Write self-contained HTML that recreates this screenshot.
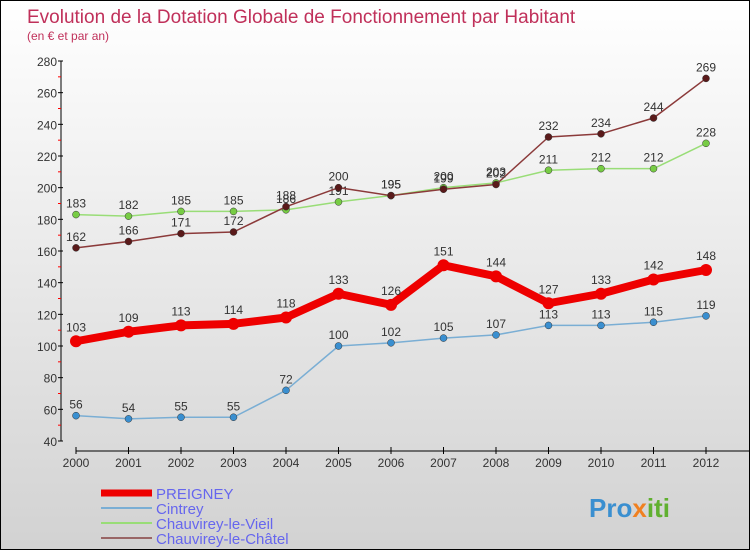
<!DOCTYPE html>
<html><head><meta charset="utf-8"><style>
body{margin:0}
#c{width:750px;height:550px;position:relative;box-sizing:border-box;border:1px solid #000;background:linear-gradient(#fff,#d2d2d2);font-family:"Liberation Sans",sans-serif;overflow:hidden}
</style></head><body>
<div id="c">
<svg id="s" width="748" height="548" style="position:absolute;left:0;top:0">
<text x="26" y="22" font-size="19" fill="#c0305a">Evolution de la Dotation Globale de Fonctionnement par Habitant</text>
<text x="26" y="39" font-size="12" fill="#c0305a">(en € et par an)</text>
<g id="g"></g>
<text x="588" y="516" font-size="26" font-weight="bold" fill="#3a8fd0">Pro<tspan fill="#f08020">x</tspan><tspan fill="#60b030">iti</tspan></text>
</svg>
</div>
<script>
const years=[2000,2001,2002,2003,2004,2005,2006,2007,2008,2009,2010,2011,2012];
const preigney=[103,109,113,114,118,133,126,151,144,127,133,142,148];
const cintrey=[56,54,55,55,72,100,102,105,107,113,113,115,119];
const vieil=[183,182,185,185,186,191,195,200,203,211,212,212,228];
const chatel=[162,166,171,172,188,200,195,199,202,232,234,244,269];
const yTicks=[40,60,80,100,120,140,160,180,200,220,240,260,280];
const NS="http://www.w3.org/2000/svg";
const g=document.getElementById('g');
const X=i=>75+i*52.5;
const Y=v=>440-(v-40)*380/240;
function el(t,a,n){const e=document.createElementNS(NS,t);for(const k in a)e.setAttribute(k,a[k]);g.appendChild(e);return e;}
el('line',{x1:60,y1:Y(280),x2:60,y2:Y(40),stroke:'#000'},'y-axis');
el('line',{x1:75,y1:450,x2:748,y2:450,stroke:'#000'},'x-axis');
yTicks.forEach((v,i)=>{
 el('line',{x1:57,x2:62,y1:Y(v),y2:Y(v),stroke:'#000'},'y-tick');
 if(i<yTicks.length-1)el('line',{x1:57,x2:60,y1:Y(v+10),y2:Y(v+10),stroke:'#f00'},'y-minor-tick');
 const t=el('text',{x:56,y:Y(v)+5,'text-anchor':'end','font-size':12,fill:'#333'},'y-tick-label');t.textContent=v;
});
years.forEach((y,i)=>{
 el('line',{x1:X(i),x2:X(i),y1:446,y2:453,stroke:'#000'},'x-tick');
 const t=el('text',{x:X(i),y:466,'text-anchor':'middle','font-size':12,fill:'#333'},'x-tick-label');t.textContent=y;
});
function series(d,col,dot,w,r,name){
 el('polyline',{points:d.map((v,i)=>X(i)+','+Y(v)).join(' '),fill:'none',stroke:col,'stroke-width':w,'stroke-linejoin':'round'},name+'-line');
 d.forEach((v,i)=>{
  el('circle',{cx:X(i),cy:Y(v),r:r,fill:dot,stroke:'#333','stroke-width':r>4?0:0.5},name+'-point');
  const t=el('text',{x:X(i),y:Y(v)-(r>4?10:7),'text-anchor':'middle','font-size':12,fill:'#333'},name+'-value-label');t.textContent=v;
 });
}
series(cintrey,'#7aaed4','#3a8fd0',1.5,3.5,'cintrey');
series(vieil,'#99dd77','#77cc44',1.5,3.5,'chauvirey-le-vieil');
series(chatel,'#8b3a3a','#5a1a1a',1.5,3.5,'chauvirey-le-chatel');
series(preigney,'#ee0000','#ee0000',8,6,'preigney');
const leg=[['PREIGNEY','#ee0000',7],['Cintrey','#7aaed4',2],['Chauvirey-le-Vieil','#99dd77',2],['Chauvirey-le-Châtel','#996666',2]];
leg.forEach((l,i)=>{
 const y=492+i*15;
 el('line',{x1:100,x2:151,y1:y,y2:y,stroke:l[1],'stroke-width':l[2]},'legend-swatch');
 const t=el('text',{x:155,y:y+6,'font-size':15,fill:'#6666ee'},'legend-entry');t.textContent=l[0];
});
</script>
</body></html>
